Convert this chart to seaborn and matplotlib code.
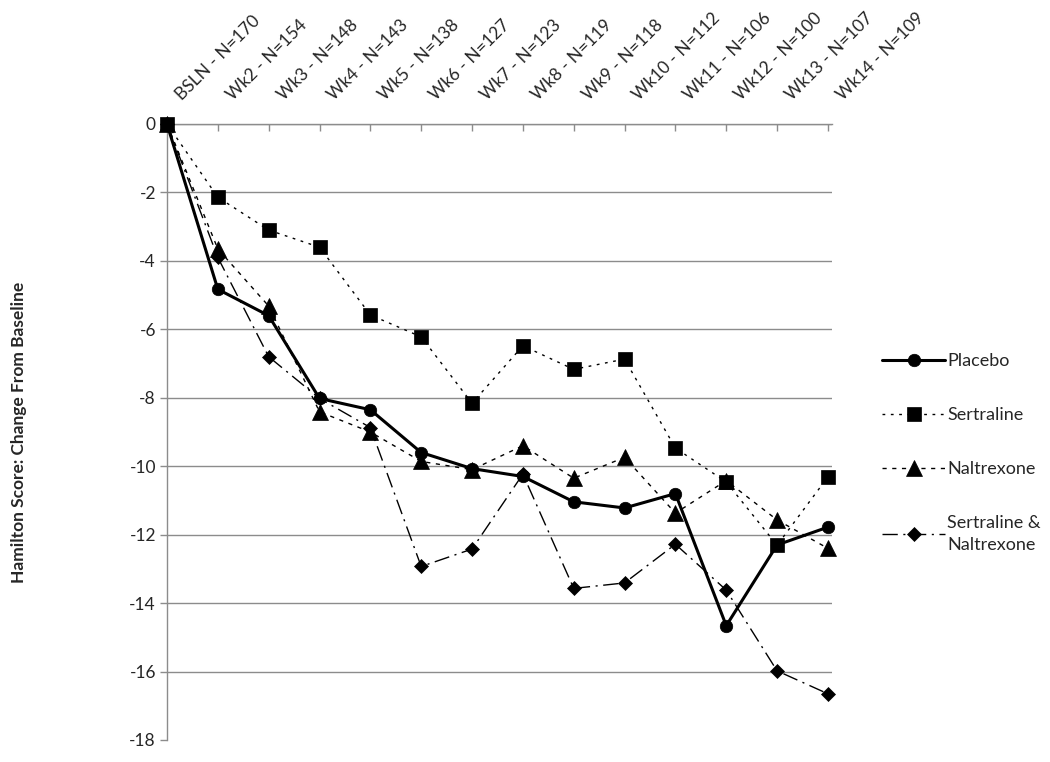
import numpy as np
import pandas as pd
import matplotlib
matplotlib.use("Agg")
import matplotlib.pyplot as plt
import matplotlib.transforms as mtransforms
import seaborn as sns

# week labels (top axis) and group means
weeks = ["BSLN - N=170", "Wk2 - N=154", "Wk3 - N=148", "Wk4 - N=143", "Wk5 - N=138",
         "Wk6 - N=127", "Wk7 - N=123", "Wk8 - N=119", "Wk9 - N=118", "Wk10 - N=112",
         "Wk11 - N=106", "Wk12 - N=100", "Wk13 - N=107", "Wk14 - N=109"]
placebo = [0, -4.83, -5.6, -8.02, -8.35, -9.6, -10.07, -10.3, -11.04, -11.22,
           -10.8, -14.66, -12.3, -11.78]
sertraline = [0, -2.14, -3.1, -3.6, -5.58, -6.22, -8.16, -6.48, -7.17, -6.87,
              -9.47, -10.46, -12.31, -10.31]
naltrexone = [0, -3.65, -5.32, -8.41, -9.0, -9.86, -10.1, -9.4, -10.35, -9.74,
              -11.37, -10.42, -11.57, -12.4]
combo = [0, -3.9, -6.8, -8.02, -8.87, -12.93, -12.42, -10.23, -13.57, -13.41,
         -12.28, -13.62, -15.98, -16.65]

GRAY = "#8c8c8c"

sns.set_style("white")
plt.rcParams["font.family"] = ["Lato", "DejaVu Sans"]

fig = plt.figure(figsize=(10.5, 7.62), dpi=100)
ax = fig.add_axes([167 / 1050, 1 - 740 / 762, (832 - 167) / 1050, (740 - 124) / 762])

x = np.arange(len(weeks))

# draw order so the overlaps look like the original
sns.lineplot(x=x, y=combo, ax=ax, color="black", linewidth=1.0,
             linestyle=(0, (11, 4, 1.5, 4)), marker="D", markersize=7.5,
             markeredgecolor="black", markeredgewidth=0.5, clip_on=False, zorder=3)
sns.lineplot(x=x, y=naltrexone, ax=ax, color="black", linewidth=1.0,
             linestyle=(0, (3, 4)), marker="^", markersize=11,
             markeredgecolor="black", markeredgewidth=0.5, clip_on=False, zorder=4)
sns.lineplot(x=x, y=placebo, ax=ax, color="black", linewidth=2.2,
             linestyle="-", marker="o", markersize=9,
             markeredgecolor="black", markeredgewidth=0.5, clip_on=False, zorder=5)
sns.lineplot(x=x, y=sertraline, ax=ax, color="black", linewidth=1.0,
             linestyle=(0, (2, 4)), marker="s", markersize=10,
             markeredgecolor="black", markeredgewidth=0.5, clip_on=False, zorder=6)

ln_combo, ln_nal, ln_pla, ln_ser = ax.get_lines()[:4]

ax.set_xlim(0, 13.08)
ax.set_ylim(-18, 0)
ax.set_yticks(np.arange(-18, 1, 2))
ax.set_yticklabels([str(v) for v in range(-18, 1, 2)], fontsize=12.5)

ax.xaxis.tick_top()
ax.set_xticks(x)
ax.set_xticklabels(weeks, rotation=45, ha="left", va="bottom",
                   rotation_mode="anchor", fontsize=12.5)

ax.tick_params(axis="x", direction="in", length=5, width=1, color=GRAY, pad=15)
ax.tick_params(axis="y", direction="out", length=5, width=1, color=GRAY, pad=3, left=True)

# nudge the slanted labels to the right (after tick_params, which resets transforms)
shift = mtransforms.ScaledTranslation(17 / 100, 0, fig.dpi_scale_trans)
for lab in ax.get_xticklabels():
    lab.set_transform(lab.get_transform() + shift)

ax.yaxis.grid(True, color=GRAY, linewidth=1)
ax.xaxis.grid(False)
ax.yaxis.get_gridlines()[0].set_visible(False)

for side in ["bottom", "right"]:
    ax.spines[side].set_visible(False)
for side in ["top", "left"]:
    ax.spines[side].set_color(GRAY)
    ax.spines[side].set_linewidth(1)

ax.set_ylabel("Hamilton Score: Change From Baseline", fontsize=12.5, fontweight="bold")
ax.yaxis.set_label_coords(-0.21, 0.5)

leg = fig.legend([ln_pla, ln_ser, ln_nal, ln_combo],
                 ["Placebo", "Sertraline", "Naltrexone", "Sertraline &\nNaltrexone"],
                 loc="upper left", bbox_to_anchor=(882 / 1050, 1 - 353 / 762),
                 frameon=False, fontsize=13, handlelength=3.5, handletextpad=0.1,
                 labelspacing=2.1, borderpad=0, borderaxespad=0)
for t in leg.get_texts():
    t.set_linespacing(1.5)

fig.savefig("out.png", dpi=100)
